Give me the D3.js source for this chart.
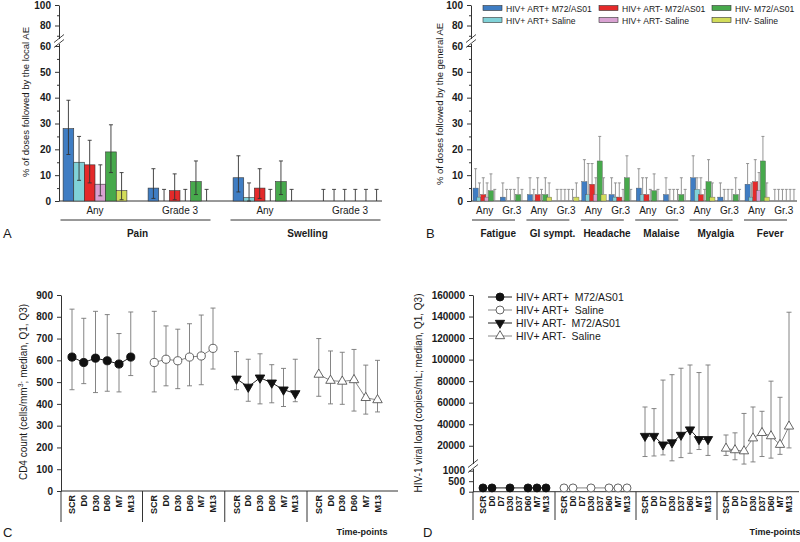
<!DOCTYPE html>
<html>
<head>
<meta charset="utf-8">
<script src="https://cdn.jsdelivr.net/npm/d3@7"></script>
<style>
  body { margin: 0; background: #fff; }
  svg { display: block; }
  text { font-family: "Liberation Sans", Arial, sans-serif; fill: #1a1a1a; }
</style>
</head>
<body>
<svg width="800" height="542"></svg>
<script>
// ---------- data ----------
const seriesNames = ["HIV+ ART+ M72/AS01", "HIV+ ART+ Saline", "HIV+ ART- M72/AS01",
                     "HIV+ ART- Saline", "HIV- M72/AS01", "HIV- Saline"];
const seriesColors = ["#3f7dc3", "#80d2d8", "#e42a2a", "#d9a2d2", "#47a94c", "#d2dc5a"];

// panel A: local AE
const localSites = ["Pain", "Swelling"];
const localGrades = ["Any", "Grade 3"];
const localValues = [
  [28, 15, 14, 6.5, 19, 4],
  [5, 0, 4, 0, 7.5, 0],
  [9, 1.3, 5, 0, 7.5, 0],
  [0, 0, 0, 0, 0, 0]
];
const localLower = [
  [18, 8, 7, 2, 11, 0.5],
  [1, 0, 0.5, 0, 2.5, 0],
  [3.5, 0, 1, 0, 2.5, 0],
  [0, 0, 0, 0, 0, 0]
];
const localUpper = [
  [39, 25, 23.5, 14, 29.5, 11],
  [12.5, 4.5, 10.5, 4.5, 15.5, 4.5],
  [17.5, 7, 12.5, 4.5, 15.5, 4.5],
  [4.5, 4.5, 4.5, 4.5, 4.5, 4.5]
];

// panel B: general AE
const generalSymptoms = ["Fatigue", "GI sympt.", "Headache", "Malaise", "Myalgia", "Fever"];
const generalGrades = ["Any", "Gr.3"];
const generalValues = [
  [5, 1.5, 2.5, 1.5, 4, 0],
  [1.5, 0, 0, 0, 2.5, 0],
  [2.5, 0, 2.5, 0, 2.5, 1.5],
  [0, 0, 0, 0, 0, 1.5],
  [7.5, 2.5, 6.5, 2.5, 15.5, 2.5],
  [2.5, 1.5, 1.5, 0, 9, 0],
  [5, 2.5, 2.5, 0, 4, 0],
  [2.5, 0, 0, 0, 2.5, 0],
  [9, 4.5, 2.5, 0, 7.5, 1.5],
  [1.5, 0, 0, 0, 2.5, 0],
  [6.5, 1.5, 7.5, 4, 15.5, 1.5],
  [0, 0, 0, 0, 0, 0]
];
const generalUpper = [
  [12.5, 7, 9, 7, 10.5, 4.5],
  [7, 4.5, 4.5, 4.5, 9, 4.5],
  [9, 4.5, 9, 4.5, 9, 7],
  [4.5, 4.5, 4.5, 4.5, 4.5, 7],
  [16, 14.5, 14.5, 9, 25, 9],
  [9, 7, 7, 4.5, 17.5, 4.5],
  [12.5, 9, 9, 4.5, 10.5, 4.5],
  [9, 4.5, 4.5, 4.5, 9, 4.5],
  [17.5, 9, 9, 4.5, 16, 7],
  [7, 4.5, 4.5, 4.5, 9, 4.5],
  [14.5, 7, 16, 11, 25, 7],
  [4.5, 4.5, 4.5, 4.5, 4.5, 4.5]
];
const pctTicks = [0, 10, 20, 30, 40, 50, 60, 80, 100];
const pctMinor = [5, 15, 25, 35, 45, 55, 70, 90];

// panel C: CD4 count
const groupNames = ["HIV+ ART+  M72/AS01", "HIV+ ART+  Saline", "HIV+ ART-  M72/AS01", "HIV+ ART-  Saline"];
const timePointsC = ["SCR", "D0", "D30", "D60", "M7", "M13"];
const cd4Median = [
  [615, 590, 610, 598, 583, 615],
  [590, 605, 598, 615, 620, 655],
  [515, 478, 520, 497, 465, 448],
  [535, 507, 503, 510, 428, 418]
];
const cd4Q1 = [
  [465, 493, 452, 458, 455, 530],
  [455, 483, 470, 483, 488, 560],
  [465, 412, 400, 405, 388, 410],
  [435, 400, 398, 367, 353, 363]
];
const cd4Q3 = [
  [835, 793, 825, 810, 723, 822],
  [825, 758, 743, 768, 808, 840],
  [640, 605, 630, 580, 563, 605],
  [700, 643, 637, 650, 578, 600]
];
const cd4Ticks = [0, 100, 200, 300, 400, 500, 600, 700, 800, 900];

// panel D: viral load
const timePointsD = ["SCR", "D0", "D7", "D30", "D37", "D60", "M7", "M13"];
const viralMedian = [
  [180, 180, null, 180, null, 180, 180, 180],
  [180, 180, null, 180, null, 180, 180, 180],
  [29000, 29000, 21000, 23000, 30000, 35000, 26000, 26000],
  [17500, 16000, 15000, 27000, 32000, 29000, 21000, 38000]
];
const viralQ1 = [
  [null, null, null, null, null, null, null, null],
  [null, null, null, null, null, null, null, null],
  [10000, 10500, 11500, 6000, 9000, 13000, 16500, 11000],
  [11000, 7000, 3000, 5000, 10000, 8500, 12000, 18000]
];
const viralQ3 = [
  [null, null, null, null, null, null, null, null],
  [null, null, null, null, null, null, null, null],
  [56000, 54500, 81000, 86000, 92000, 95000, 88000, 95000],
  [30000, 32000, 50000, 56000, 52000, 80000, 65000, 144000]
];
const viralTicks = [0, 500, 1000, 20000, 40000, 60000, 80000, 100000, 120000, 140000, 160000];

// ---------- helpers ----------
const svg = d3.select("svg");
svg.append("rect").attr("width", 800).attr("height", 542).attr("fill", "#fff");

function styleAxis(g, size) {
  g.select(".domain").attr("stroke", "#333").attr("stroke-width", 1);
  g.selectAll(".tick line").attr("stroke", "#333");
  g.selectAll(".tick text").attr("font-size", size).attr("font-weight", "bold")
    .attr("fill", "#1a1a1a").attr("font-family", '"Liberation Sans", Arial, sans-serif');
}

function axisBreak(x, y) {
  svg.append("rect").attr("x", x - 2).attr("y", y - 3).attr("width", 4).attr("height", 5).attr("fill", "#fff");
  [-2.5, 2.5].forEach(function (d) {
    svg.append("line")
      .attr("x1", x - 5).attr("y1", y + d + 3)
      .attr("x2", x + 5).attr("y2", y + d - 5)
      .attr("stroke", "#333").attr("stroke-width", 0.9);
  });
}

function yLabel(x, y, txt, size) {
  return svg.append("text")
    .attr("transform", "translate(" + x + "," + y + ") rotate(-90)")
    .attr("text-anchor", "middle").attr("font-size", size).text(txt);
}

function panelLetter(x, y, t) {
  svg.append("text").attr("x", x).attr("y", y).attr("font-size", 13).text(t);
}

function errBar(g, x, y0, y1, color, cap, capLow) {
  g.append("line").attr("x1", x).attr("x2", x).attr("y1", y0).attr("y2", y1)
    .attr("stroke", color).attr("stroke-width", 0.9);
  g.append("line").attr("x1", x - cap).attr("x2", x + cap).attr("y1", y1).attr("y2", y1)
    .attr("stroke", color).attr("stroke-width", 0.9);
  if (capLow) {
    g.append("line").attr("x1", x - cap).attr("x2", x + cap).attr("y1", y0).attr("y2", y0)
      .attr("stroke", color).attr("stroke-width", 0.9);
  }
}

// percentage y axis used by panels A and B
const yPct = d3.scaleLinear().domain([0, 60, 100]).range([201, 46, 5]);

function pctAxis(x0) {
  const a = svg.append("g").attr("transform", "translate(" + x0 + ",0)")
    .call(d3.axisLeft(yPct).tickValues(pctTicks).tickSize(4).tickSizeOuter(0).tickPadding(4));
  styleAxis(a, 10);
  svg.append("g").attr("transform", "translate(" + x0 + ",0)")
    .call(d3.axisLeft(yPct).tickValues(pctMinor).tickSize(2).tickFormat(""))
    .call(function (g) { g.select(".domain").remove(); g.selectAll("line").attr("stroke", "#333"); });
  axisBreak(x0, 42);
}

// ---------- panel A ----------
const gA = svg.append("g");
const xA = d3.scaleBand().domain(d3.range(4)).range([52.5, 392.5]);
const xAin = d3.scaleBand().domain(d3.range(6)).range([10.6, 74.4]);
pctAxis(59);
gA.append("line").attr("x1", 59).attr("x2", 382).attr("y1", yPct(0)).attr("y2", yPct(0)).attr("stroke", "#333");

localValues.forEach(function (row, k) {
  row.forEach(function (v, i) {
    if (v > 0) {
      gA.append("rect")
        .attr("x", xA(k) + xAin(i)).attr("y", yPct(v))
        .attr("width", xAin.bandwidth()).attr("height", yPct(0) - yPct(v))
        .attr("fill", seriesColors[i]).attr("stroke", "#333").attr("stroke-width", 0.6);
    }
  });
});
localValues.forEach(function (row, k) {
  row.forEach(function (v, i) {
    const cx = xA(k) + xAin(i) + xAin.bandwidth() / 2;
    const lo = localLower[k][i];
    errBar(gA, cx, yPct(lo), yPct(localUpper[k][i]), "#333", 2, lo > 0 || v > 0);
  });
});
localSites.forEach(function (s, si) {
  localGrades.forEach(function (gr, gi) {
    const k = si * 2 + gi;
    gA.append("text").attr("x", xA(k) + xA.bandwidth() / 2).attr("y", 214)
      .attr("text-anchor", "middle").attr("font-size", 10).text(gr);
  });
  const start = xA(si * 2), end = xA(si * 2 + 1) + xA.bandwidth();
  gA.append("line").attr("x1", start + 8).attr("x2", end - 12).attr("y1", 220).attr("y2", 220)
    .attr("stroke", "#333");
  gA.append("text").attr("x", (start + end) / 2).attr("y", 237).attr("text-anchor", "middle")
    .attr("font-size", 10).attr("font-weight", "bold").text(s);
});
yLabel(29, 102, "% of doses followed by the local AE", 9.5);
panelLetter(3, 238, "A");

// ---------- panel B ----------
const gB = svg.append("g");
const xB = d3.scaleBand().domain(d3.range(12)).range([471, 797.4]);
const xBin = d3.scaleBand().domain(d3.range(6)).range([2, 25]);
const barWB = 5.2;
pctAxis(471);
gB.append("line").attr("x1", 471).attr("x2", 797).attr("y1", yPct(0)).attr("y2", yPct(0)).attr("stroke", "#333");

generalValues.forEach(function (row, k) {
  row.forEach(function (v, i) {
    if (v > 0) {
      gB.append("rect")
        .attr("x", xB(k) + xBin(i)).attr("y", yPct(v))
        .attr("width", barWB).attr("height", yPct(0) - yPct(v))
        .attr("fill", seriesColors[i]).attr("stroke", "#555").attr("stroke-width", 0.4);
    }
  });
});
generalValues.forEach(function (row, k) {
  row.forEach(function (v, i) {
    const cx = xB(k) + xBin(i) + barWB / 2;
    errBar(gB, cx, yPct(v), yPct(generalUpper[k][i]), "#8a8a8a", 1.5, false);
  });
});
generalSymptoms.forEach(function (s, si) {
  generalGrades.forEach(function (gr, gi) {
    const k = si * 2 + gi;
    gB.append("text").attr("x", xB(k) + xB.bandwidth() / 2).attr("y", 214)
      .attr("text-anchor", "middle").attr("font-size", 10).text(gr);
  });
  const start = xB(si * 2);
  gB.append("line").attr("x1", start + 1).attr("x2", start + 44).attr("y1", 220).attr("y2", 220)
    .attr("stroke", "#333");
  gB.append("text").attr("x", start + xB.bandwidth()).attr("y", 237).attr("text-anchor", "middle")
    .attr("font-size", 10).attr("font-weight", "bold").text(s);
});
yLabel(443, 104, "% of doses followed by the general AE", 9.5);
panelLetter(426, 238, "B");

// legend B
seriesNames.forEach(function (n, i) {
  const col = Math.floor(i / 2), row = i % 2;
  const lx = [483, 599, 712][col], ly = [8, 20][row];
  gB.append("rect").attr("x", lx).attr("y", ly - 2.5).attr("width", 19).attr("height", 5)
    .attr("fill", seriesColors[i]).attr("stroke", "#333").attr("stroke-width", 0.6);
  gB.append("text").attr("x", lx + 23).attr("y", ly + 3.5).attr("font-size", 8.6).text(n);
});

// ---------- shared marker styles for C and D ----------
const markerShapes = [d3.symbolCircle, d3.symbolCircle, d3.symbolTriangle, d3.symbolTriangle];
const markerFill = ["#111", "#fff", "#111", "#fff"];
const markerStroke = ["#111", "#555", "#111", "#555"];
const markerRot = [0, 0, 180, 0];
const lineColor = ["#222", "#888", "#222", "#888"];

function marker(g, k, x, y, size) {
  const s = markerShapes[k] === d3.symbolTriangle ? size * 0.75 : size;
  g.append("path")
    .attr("d", d3.symbol().type(markerShapes[k]).size(s)())
    .attr("transform", "translate(" + x + "," + y + ") rotate(" + markerRot[k] + ")")
    .attr("fill", markerFill[k]).attr("stroke", markerStroke[k]).attr("stroke-width", 0.9);
}

function timeAxis(g, xPos, labels, nGroups, slotsPer, yBase, xLeft, xRight, sepBottom, fsize) {
  g.append("line").attr("x1", xLeft).attr("x2", xRight).attr("y1", yBase).attr("y2", yBase).attr("stroke", "#333");
  for (let k = 0; k < nGroups; k++) {
    labels.forEach(function (t, i) {
      const x = xPos(k * slotsPer + i);
      g.append("text")
        .attr("transform", "translate(" + (x + 3) + "," + (yBase + 4) + ") rotate(-90)")
        .attr("text-anchor", "end").attr("font-size", fsize).attr("font-weight", "bold").text(t);
    });
    const sx = k === 0 ? xLeft : xPos(k * slotsPer - 1);
    g.append("line").attr("x1", sx).attr("x2", sx).attr("y1", yBase).attr("y2", sepBottom).attr("stroke", "#333");
  }
}

// ---------- panel C ----------
const gC = svg.append("g");
const yC = d3.scaleLinear().domain([0, 900]).range([491, 295]);
const xC = d3.scaleLinear().domain([0, 26]).range([72, 377.5]);
const aC = svg.append("g").attr("transform", "translate(61,0)")
  .call(d3.axisLeft(yC).tickValues(cd4Ticks).tickSize(4).tickSizeOuter(0).tickPadding(4));
styleAxis(aC, 10);
timeAxis(gC, xC, timePointsC, 4, 7, 491, 61, 398, 522, 9);

cd4Median.forEach(function (row, k) {
  const pts = row.map(function (v, i) { return [xC(k * 7 + i), yC(v)]; });
  row.forEach(function (v, i) {
    errBar(gC, pts[i][0], yC(cd4Q1[k][i]), yC(cd4Q3[k][i]), "#777", 2.5, true);
  });
  gC.append("path").attr("d", d3.line()(pts)).attr("fill", "none")
    .attr("stroke", lineColor[k]).attr("stroke-width", 1);
  pts.forEach(function (p) { marker(gC, k, p[0], p[1], 52); });
});
const cLab = svg.append("text")
  .attr("transform", "translate(27,392) rotate(-90)")
  .attr("text-anchor", "middle").attr("font-size", 10);
cLab.append("tspan").text("CD4 count (cells/mm");
cLab.append("tspan").attr("font-size", 7).attr("dy", -4).text("3");
cLab.append("tspan").attr("dy", 4).text("; median, Q1, Q3)");
svg.append("text").attr("x", 362).attr("y", 535).attr("text-anchor", "middle")
  .attr("font-size", 9).attr("font-weight", "bold").text("Time-points");
panelLetter(3, 537, "C");

// ---------- panel D ----------
const gD = svg.append("g");
const yD = d3.scaleLinear().domain([0, 1000, 1200, 160000]).range([491.7, 470.7, 466, 295]);
const xD = d3.scaleLinear().domain([0, 34]).range([483, 789]);
const aD = svg.append("g").attr("transform", "translate(473,0)")
  .call(d3.axisLeft(yD).tickValues(viralTicks).tickSize(4).tickSizeOuter(0).tickPadding(4).tickFormat(d3.format("d")));
styleAxis(aD, 10);
axisBreak(473, 467);
timeAxis(gD, xD, timePointsD, 4, 9, 491.7, 473, 799, 520, 8.5);

viralMedian.forEach(function (row, k) {
  const pts = [];
  row.forEach(function (v, i) {
    if (v === null) return;
    const x = xD(k * 9 + i);
    if (viralQ1[k][i] !== null) {
      errBar(gD, x, yD(viralQ1[k][i]), yD(viralQ3[k][i]), "#777", 2.5, true);
    }
    pts.push([x, yD(v)]);
  });
  gD.append("path").attr("d", d3.line()(pts)).attr("fill", "none")
    .attr("stroke", lineColor[k]).attr("stroke-width", 1);
  pts.forEach(function (p) { marker(gD, k, p[0], p[1], 50); });
});
yLabel(422, 393, "HIV-1 viral load (copies/mL; median, Q1, Q3)", 10);
svg.append("text").attr("x", 775).attr("y", 535).attr("text-anchor", "middle")
  .attr("font-size", 9).attr("font-weight", "bold").text("Time-points");
panelLetter(423, 537, "D");

// legend D
groupNames.forEach(function (n, k) {
  const ly = 297 + k * 13;
  gD.append("line").attr("x1", 488).attr("x2", 512).attr("y1", ly).attr("y2", ly)
    .attr("stroke", lineColor[k]).attr("stroke-width", 1);
  marker(gD, k, 500, ly, 50);
  gD.append("text").attr("x", 516).attr("y", ly + 4).attr("font-size", 10.5)
    .attr("xml:space", "preserve").style("white-space", "pre").text(n);
});
</script>
</body>
</html>
